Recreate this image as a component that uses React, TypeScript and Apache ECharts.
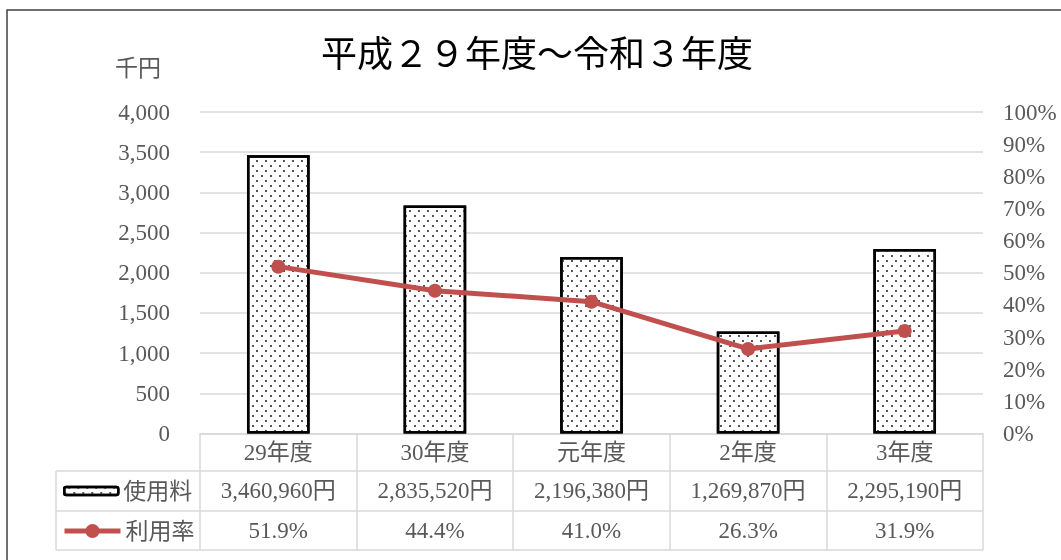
import React, { useEffect, useRef } from 'react';
import * as echarts from 'echarts';

// Chart content
const titleText = '平成２９年度～令和３年度';
const unitLabel = '千円';
const categories = ['29年度', '30年度', '元年度', '2年度', '3年度'];
const feeName = '使用料';
const rateName = '利用率';
// Usage fee in yen per fiscal year
const usageYen = [3460960, 2835520, 2196380, 1269870, 2295190];
// Utilisation rate in percent
const usageRate = [51.9, 44.4, 41.0, 26.3, 31.9];
// Axis ranges
const feeAxis = { min: 0, max: 4000, interval: 500 };
const rateAxis = { min: 0, max: 100, interval: 10 };

const FONT = '"Liberation Serif", "Noto Sans CJK JP", serif';
const GRAY = '#595959';
const RULE = '#D9D9D9';
const RED = '#C0504D';

const fmtYen = (v: number) => v.toLocaleString('en-US') + '円';
const fmtPct = (v: number) => v.toFixed(1) + '%';

export default function App() {
  const ref = useRef<HTMLDivElement>(null);

  useEffect(() => {
    const chart = echarts.init(ref.current!, null, { renderer: 'svg' });
    const W = 1061;
    const H = 560;
    const plotLeft = 200;
    const plotRight = 983;
    const plotTop = 112;
    const base = 433.5;
    const tableLeft = 56;
    const rowLines = [471, 511, 550];
    const label = { color: GRAY, fontFamily: FONT, fontSize: 23 };

    const tableRow = (data: string[], offset: number) => ({
      type: 'category',
      data,
      position: 'bottom',
      offset,
      axisLine: { show: false },
      axisTick: { show: false },
      splitLine: { show: false },
      axisLabel: { ...label, margin: 8, interval: 0 },
    });

    chart.setOption({
      animation: false,
      grid: {
        left: plotLeft,
        right: W - plotRight,
        top: plotTop,
        bottom: H - base,
        containLabel: false,
      },
      legend: [
        {
          data: [feeName],
          left: 63,
          top: 479.5,
          padding: 0,
          itemWidth: 54,
          itemHeight: 8,
          selectedMode: false,
          itemStyle: { borderWidth: 2.5 },
          textStyle: label,
        },
        {
          data: [rateName],
          left: 62,
          top: 519.5,
          padding: 0,
          itemWidth: 56,
          itemHeight: 17.5,
          selectedMode: false,
          lineStyle: { width: 5 },
          textStyle: label,
        },
      ],
      xAxis: [
        {
          type: 'category',
          data: categories,
          position: 'bottom',
          axisLine: { show: true, lineStyle: { color: RULE, width: 1.5 } },
          axisTick: {
            show: true,
            interval: 0,
            length: rowLines[2] - base,
            lineStyle: { color: RULE, width: 1.5 },
          },
          splitLine: { show: false },
          axisLabel: { ...label, margin: 7, interval: 0 },
        },
        tableRow(usageYen.map(fmtYen), 37.5),
        tableRow(usageRate.map(fmtPct), 77.5),
      ],
      yAxis: [
        {
          type: 'value',
          ...feeAxis,
          axisLine: { show: false },
          axisTick: { show: false },
          splitLine: { lineStyle: { color: RULE, width: 1.5 } },
          axisLabel: {
            ...label,
            margin: 30,
            formatter: (v: number) => v.toLocaleString('en-US'),
          },
        },
        {
          type: 'value',
          position: 'right',
          ...rateAxis,
          axisLine: { show: false },
          axisTick: { show: false },
          splitLine: { show: false },
          axisLabel: { ...label, margin: 20, formatter: '{value}%' },
        },
      ],
      series: [
        {
          name: feeName,
          type: 'bar',
          data: usageYen.map((v) => v / 1000),
          barWidth: '40%',
          itemStyle: {
            color: '#ffffff',
            borderColor: '#000000',
            borderWidth: 2.5,
            decal: {
              symbol: 'rect',
              symbolSize: 1,
              dashArrayX: [
                [1.8, 6.2],
                [0, 4, 1.8, 2.2],
              ],
              dashArrayY: [1.8, 2.9],
              color: '#555555',
              rotation: 0,
            },
          },
        },
        {
          name: rateName,
          type: 'line',
          yAxisIndex: 1,
          data: usageRate,
          symbol: 'circle',
          symbolSize: 14,
          lineStyle: { color: RED, width: 5 },
          itemStyle: { color: RED },
        },
      ],
      graphic: [
        {
          type: 'rect',
          silent: true,
          z: -10,
          shape: { x: 7, y: 10, width: 1200, height: 700 },
          style: { fill: 'none', stroke: '#404040', lineWidth: 1.5 },
        },
        {
          type: 'text',
          x: 537,
          y: 55,
          style: {
            text: titleText,
            fill: '#000000',
            fontFamily: FONT,
            fontSize: 36,
            align: 'center',
            verticalAlign: 'middle',
          },
        },
        {
          type: 'text',
          x: 138,
          y: 68,
          style: {
            text: unitLabel,
            fill: GRAY,
            fontFamily: FONT,
            fontSize: 23,
            align: 'center',
            verticalAlign: 'middle',
          },
        },
        ...rowLines.map((y) => ({
          type: 'line',
          silent: true,
          shape: { x1: tableLeft, y1: y, x2: plotRight, y2: y },
          style: { stroke: RULE, lineWidth: 1.5 },
        })),
        {
          type: 'line',
          silent: true,
          shape: { x1: tableLeft, y1: rowLines[0], x2: tableLeft, y2: rowLines[2] },
          style: { stroke: RULE, lineWidth: 1.5 },
        },
      ],
    });
    return () => chart.dispose();
  }, []);

  return (
    <div
      ref={ref}
      style={{ position: 'fixed', left: 0, top: 0, width: 1061, height: 560 }}
    />
  );
}
